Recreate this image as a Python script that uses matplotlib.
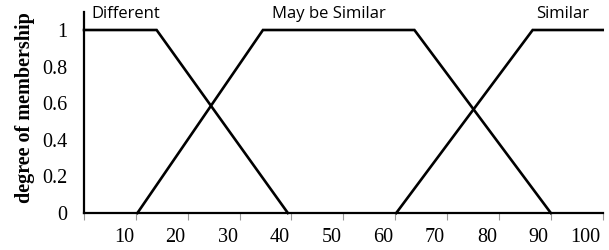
import matplotlib
matplotlib.use("Agg")
import matplotlib.pyplot as plt
from matplotlib.transforms import ScaledTranslation

# membership functions (x, degree)
different_x = [0, 14, 39.3]
different_y = [1, 1, 0]
maybe_x = [10.3, 34.5, 63.7, 90]
maybe_y = [0, 1, 1, 0]
similar_x = [60.2, 86.5, 100]
similar_y = [0, 1, 1]

x_ticks = [0, 10, 20, 30, 40, 50, 60, 70, 80, 90, 100]
x_labels = ['', '10', '20', '30', '40', '50', '60', '70', '80', '90', '100']
y_ticks = [0, 0.2, 0.4, 0.6, 0.8, 1]
y_labels = ['0', '0.2', '0.4', '0.6', '0.8', '1']

# set names and where they sit above the plot
set_names = ['Different', 'May be Similar', 'Similar']
name_x = [1.4, 47.3, 92.2]
name_ha = ['left', 'center', 'center']

fig = plt.figure(figsize=(6.09, 2.5), dpi=100)
ax = fig.add_axes([84 / 609, 1 - 213 / 250, 518.7 / 609, 201.3 / 250])

for xs, ys in [(different_x, different_y), (maybe_x, maybe_y), (similar_x, similar_y)]:
    ax.plot(xs, ys, color='black', lw=1.9, solid_joinstyle='miter', clip_on=False)

ax.set_xlim(0, 100)
ax.set_ylim(0, 1.1)

for s in ['top', 'right']:
    ax.spines[s].set_visible(False)
for s in ['left', 'bottom']:
    ax.spines[s].set_linewidth(1.6)
    ax.spines[s].set_color('black')

serif = 'Liberation Serif'
ax.set_xticks(x_ticks)
ax.set_xticklabels(x_labels, fontfamily=serif, fontsize=14.5)
ax.set_yticks(y_ticks)
ax.set_yticklabels(y_labels, fontfamily=serif, fontsize=14.5)
ax.tick_params(axis='x', direction='out', length=5, width=0.8, color='#999999', pad=6)
ax.tick_params(axis='y', length=0, pad=12)

# labels sit just left of each tick
shift = ScaledTranslation(-2 / 100, 0, fig.dpi_scale_trans)
for lab in ax.get_xticklabels():
    lab.set_ha('right')
    lab.set_transform(lab.get_transform() + shift)

ax.set_ylabel('degree of membership', fontfamily=serif, fontsize=14.5, fontweight='bold')
ax.yaxis.set_label_coords(-0.114, 0.524)
ax.yaxis.label.set_va('center')

for name, nx, ha in zip(set_names, name_x, name_ha):
    ax.text(nx, 1.09, name, ha=ha, va='center', fontsize=12, fontfamily='Open Sans', clip_on=False)

fig.savefig('out.png', dpi=100)
